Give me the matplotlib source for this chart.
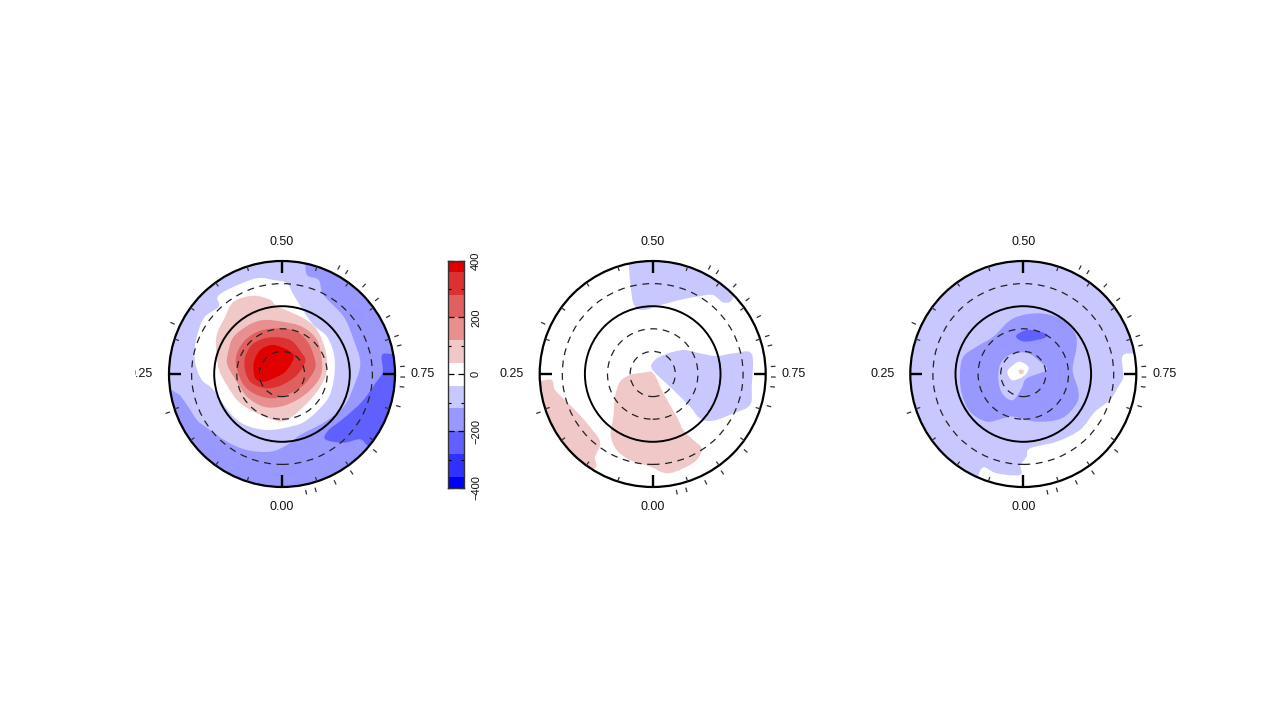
import numpy as np
import matplotlib
matplotlib.use('Agg')
import matplotlib.pyplot as plt
from matplotlib.patches import Circle, PathPatch
from matplotlib.path import Path
from matplotlib.colors import ListedColormap, BoundaryNorm
from matplotlib.transforms import Bbox

plt.rcParams['font.family'] = ['Liberation Sans', 'DejaVu Sans']

# contour colours, from lowest level to highest
level_values = [-400, -320, -240, -160, -80, 0, 80, 160, 240, 320, 400]
level_colors = ['#0000ff', '#3030ff', '#6060ff', '#9898ff', '#c8c8ff', '#ffffff',
                '#f0c8c8', '#e89090', '#e06060', '#dd3030', '#e00000']
bar_bounds = [-400, -360, -280, -200, -120, -40, 40, 120, 200, 280, 360, 400]
bar_ticks = [-400, -200, 0, 200, 400]
bar_minor = [-300, -100, 100, 300]
bar_labels = ['\u2212400', '\u2212200', '0', '200', '400']

# phases of the observations, marked outside the rim
obs_phases = [0.968, 0.955, 0.9275, 0.902, 0.860, 0.793, 0.767, 0.754, 0.740, 0.712,
              0.699, 0.671, 0.644, 0.619, 0.590, 0.578, 0.319, 0.198]
rim_phases = [0.05, 0.10, 0.15, 0.20, 0.30, 0.35, 0.40, 0.45, 0.55, 0.60, 0.65, 0.70,
              0.80, 0.85, 0.90, 0.95]
main_phases = [0.0, 0.25, 0.5, 0.75]
phase_labels = ['0.00', '0.25', '0.50', '0.75']

# rings as a fraction of the map radius
dashed_rings = [0.2, 0.4, 0.8]
solid_ring = 0.6

# contour outlines (x, y, y going down, 339 = map radius)
p1_center = (455, 432)
p1_m160 = [(525, 60), (525, 90), (530, 135), (565, 150), (580, 195), (640, 260), (670, 330),
           (690, 400), (670, 470), (640, 530), (585, 575), (510, 615), (470, 645), (420, 665),
           (350, 660), (290, 635), (225, 590), (200, 570), (170, 525), (140, 490), (100, 505),
           (100, 800), (800, 800), (800, 90)]
p1_m240 = [(830, 372), (790, 372), (755, 375), (757, 425), (735, 460), (695, 515), (640, 565),
           (595, 600), (585, 628), (640, 638), (690, 628), (720, 650), (800, 650)]
p1_zero = [(378, 145), (300, 175), (262, 200), (265, 230), (220, 265), (195, 340), (195, 400),
           (215, 450), (250, 480), (300, 550), (345, 585), (410, 600), (480, 590), (530, 570),
           (590, 510), (610, 450), (612, 380), (590, 320), (545, 280), (490, 195), (470, 160),
           (430, 150)]
p1_p80 = [(310, 215), (370, 197), (420, 210), (440, 228), (520, 265), (560, 300), (585, 360),
          (590, 420), (570, 470), (530, 520), (470, 570), (430, 570), (370, 545), (320, 510),
          (275, 440), (262, 400), (258, 320), (285, 260)]
p1_p160 = [(295, 360), (310, 320), (355, 285), (400, 270), (455, 275), (515, 290), (560, 330),
           (575, 395), (570, 440), (540, 480), (500, 510), (450, 530), (400, 530), (350, 500),
           (310, 440), (290, 400)]
p1_p240 = [(318, 410), (320, 370), (345, 330), (390, 302), (450, 295), (500, 305), (535, 340),
           (555, 395), (550, 425), (520, 465), (480, 490), (430, 505), (380, 495), (340, 465)]
p1_p320 = [(345, 380), (370, 340), (420, 322), (480, 330), (515, 370), (525, 395), (500, 435),
           (455, 465), (410, 475), (365, 460), (345, 425)]
p1_p400 = [(370, 400), (390, 360), (430, 345), (480, 365), (490, 385), (465, 425), (430, 445),
           (400, 455), (375, 445)]

p2_center = (398, 432)
p2_blue_top = [(325, 50), (326, 100), (332, 170), (342, 225), (370, 240), (420, 226), (470, 212),
               (530, 200), (578, 195), (612, 218), (640, 195), (640, 50)]
p2_blue_right = [(398, 420), (400, 395), (430, 375), (490, 360), (540, 370), (590, 378), (640, 370),
                 (695, 372), (695, 470), (690, 525), (640, 550), (580, 572), (540, 565), (510, 530),
                 (460, 480)]
p2_pink_mid = [(330, 435), (370, 428), (400, 430), (430, 490), (470, 560), (490, 600), (520, 630),
               (545, 655), (530, 690), (490, 715), (440, 730), (390, 710), (330, 690), (290, 660),
               (272, 615), (280, 560), (285, 500), (300, 455)]
p2_pink_low = [(10, 452), (60, 452), (95, 450), (105, 480), (135, 510), (170, 545), (205, 585),
               (240, 635), (225, 680), (210, 720), (10, 720)]

p3_center = (430, 432)
p3_white_low = [(830, 368), (770, 370), (728, 378), (730, 440), (715, 470), (690, 510), (645, 545),
                (600, 600), (530, 635), (450, 655), (440, 680), (422, 705), (420, 735), (350, 730),
                (310, 712), (295, 745), (300, 800), (800, 800)]
p3_m160 = [(250, 380), (290, 350), (340, 320), (400, 265), (480, 250), (550, 270), (585, 310),
           (590, 350), (578, 420), (595, 480), (590, 520), (545, 565), (470, 575), (400, 560),
           (370, 565), (320, 575), (270, 545), (245, 490), (240, 430)]
p3_m240 = [(410, 315), (440, 300), (480, 305), (502, 315), (490, 325), (440, 335), (415, 328)]
p3_m80 = [(355, 435), (365, 395), (400, 370), (445, 370), (480, 395), (500, 420), (440, 445),
          (425, 475), (400, 510), (375, 500), (360, 475)]
p3_zero = [(382, 425), (400, 405), (420, 395), (445, 410), (440, 430), (420, 445), (395, 450)]
p3_p80 = [(417, 420), (430, 420), (430, 430), (420, 432)]

map_radius = 339
color_of = dict(zip(level_values, level_colors))


def smooth_outline(xy):
    # closed curve through the read points, so the contours are not angular
    n = len(xy)
    verts = [xy[0]]
    codes = [Path.MOVETO]
    for i in range(n):
        p0, p1, p2, p3 = xy[i - 1], xy[i], xy[(i + 1) % n], xy[(i + 2) % n]
        verts += [p1 + (p2 - p0) / 6, p2 - (p3 - p1) / 6, p2]
        codes += [Path.CURVE4] * 3
    return Path(verts, codes)


def draw_map(center_px, center, base_level, regions, clip_left=None):
    # one axes per map, 3 data units to a pixel, centre of the map at 0,0
    half = 150
    ax = fig.add_axes([(center_px[0] - half) / 1278, (719 - center_px[1] - half) / 719,
                       2 * half / 1278, 2 * half / 719])
    ax.set_xlim(-3 * half, 3 * half)
    ax.set_ylim(-3 * half, 3 * half)
    ax.axis('off')

    disc = Circle((0, 0), map_radius, facecolor=color_of[base_level], edgecolor='none', zorder=1)
    ax.add_patch(disc)
    for level, outline in regions:
        pts = np.array(outline, dtype=float)
        xy = np.column_stack([pts[:, 0] - center[0], center[1] - pts[:, 1]])
        patch = PathPatch(smooth_outline(xy), facecolor=color_of[level], edgecolor='none', zorder=2)
        ax.add_patch(patch)
        patch.set_clip_path(disc)

    for ring in dashed_rings:
        ax.add_patch(Circle((0, 0), ring * map_radius, fill=False, edgecolor='#222222',
                            linewidth=0.9, linestyle=(0, (5.5, 4.5)), zorder=3))
    ax.add_patch(Circle((0, 0), solid_ring * map_radius, fill=False, edgecolor='black',
                        linewidth=1.4, zorder=4))
    ax.add_patch(Circle((0, 0), map_radius, fill=False, edgecolor='black', linewidth=1.6, zorder=4))

    def radial(phases, r0, r1, lw, col):
        for ph in phases:
            sx, sy = -np.sin(2 * np.pi * ph), -np.cos(2 * np.pi * ph)
            ax.plot([r0 * sx, r1 * sx], [r0 * sy, r1 * sy], color=col, linewidth=lw,
                    solid_capstyle='butt', zorder=4, clip_on=False)

    radial(main_phases, map_radius - 36, map_radius, 1.7, 'black')
    radial(rim_phases, map_radius - 14, map_radius, 0.9, '#333333')
    radial(obs_phases, map_radius + 16, map_radius + 30, 0.9, '#333333')

    ax.text(0, -399, phase_labels[0], ha='center', va='center', fontsize=9, color='#111111')
    left = ax.text(-423, -1, phase_labels[1], ha='center', va='center', fontsize=9, color='#111111')
    ax.text(0, 396, phase_labels[2], ha='center', va='center', fontsize=9, color='#111111')
    ax.text(423, -1, phase_labels[3], ha='center', va='center', fontsize=9, color='#111111')
    if clip_left is not None:
        left.set_clip_box(Bbox([[clip_left, 0], [1278, 719]]))
        left.set_clip_on(True)


fig = plt.figure(figsize=(12.78, 7.19), dpi=100)

draw_map((282, 374), p1_center, -80,
         [(-160, p1_m160), (-240, p1_m240), (0, p1_zero), (80, p1_p80), (160, p1_p160),
          (240, p1_p240), (320, p1_p320), (400, p1_p400)], clip_left=135)
draw_map((652.7, 374), p2_center, 0,
         [(-80, p2_blue_top), (-80, p2_blue_right), (80, p2_pink_mid), (80, p2_pink_low)])
draw_map((1023.3, 374), p3_center, -80,
         [(0, p3_white_low), (-160, p3_m160), (-240, p3_m240), (-80, p3_m80), (0, p3_zero),
          (80, p3_p80)])

# colour bar
cax = fig.add_axes([447.5 / 1278, (719 - 488) / 719, 16.5 / 1278, 227.5 / 719])
cmap = ListedColormap(level_colors)
norm = BoundaryNorm(bar_bounds, cmap.N)
vals = np.array(level_values).reshape(-1, 1)
cax.pcolormesh([0, 1], bar_bounds, vals, cmap=cmap, norm=norm)
cax.set_xticks([])
cax.set_ylim(-400, 400)
cax.yaxis.tick_right()
cax.set_yticks(bar_ticks)
cax.set_yticklabels(bar_labels, rotation=90, va='center', fontsize=8, color='#111111')
cax.set_yticks(bar_minor, minor=True)
cax.tick_params(axis='y', which='major', direction='in', left=True, right=True, length=4,
                width=0.9, pad=5)
cax.tick_params(axis='y', which='minor', direction='in', left=True, right=True, length=2.5,
                width=0.8)
for side in cax.spines.values():
    side.set_linewidth(1.0)
    side.set_color('#333333')

fig.savefig('out.png', dpi=100)
